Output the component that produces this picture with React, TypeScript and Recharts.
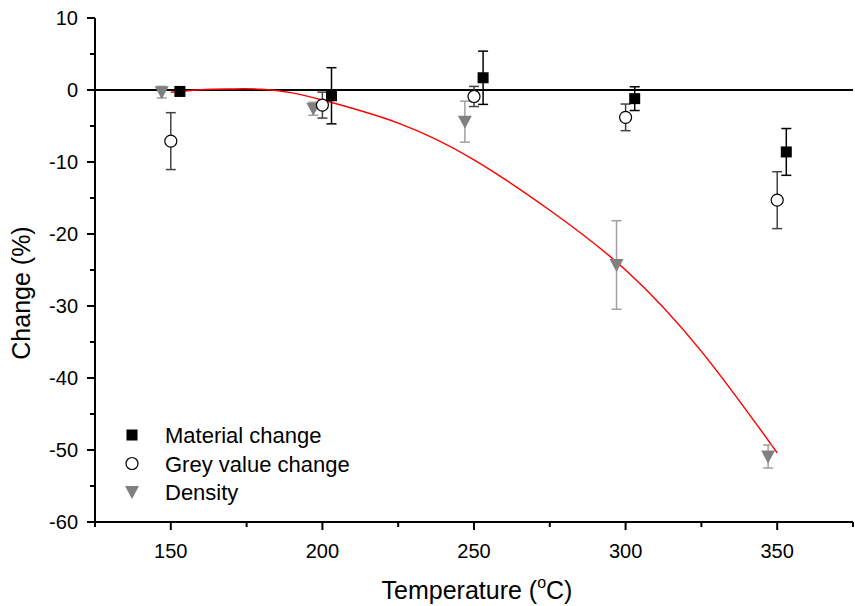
import React from "react";
import {
  ComposedChart,
  Scatter,
  Line,
  XAxis,
  YAxis,
  ErrorBar,
  ReferenceLine,
} from "recharts";

const FONT = "Arial, 'Liberation Sans', sans-serif";

// readings from the figure
const materialChange = [
  { x: 153, y: -0.2, err: 0.3 },
  { x: 203, y: -0.8, err: 3.9 },
  { x: 253, y: 1.7, err: 3.7 },
  { x: 303, y: -1.2, err: 1.65 },
  { x: 353, y: -8.6, err: 3.25 },
];

const greyValueChange = [
  { x: 150, y: -7.1, err: 3.95 },
  { x: 200, y: -2.1, err: 1.8 },
  { x: 250, y: -0.9, err: 1.4 },
  { x: 300, y: -3.8, err: 1.85 },
  { x: 350, y: -15.3, err: 3.95 },
];

const density = [
  { x: 147, y: -0.3, err: 0.8 },
  { x: 197, y: -2.6, err: 0.9 },
  { x: 247, y: -4.4, err: 2.85 },
  { x: 297, y: -24.3, err: 6.15 },
  { x: 347, y: -50.9, err: 1.6 },
];

const densityFit = [
  { x: 150, y: -0.3 },
  { x: 160, y: 0.05 },
  { x: 170, y: 0.15 },
  { x: 180, y: 0.1 },
  { x: 190, y: -0.4 },
  { x: 200, y: -1.4 },
  { x: 225, y: -4.6 },
  { x: 250, y: -9.7 },
  { x: 275, y: -16.7 },
  { x: 300, y: -25.0 },
  { x: 325, y: -36.3 },
  { x: 350, y: -50.4 },
];

const xTicks = [125, 150, 175, 200, 225, 250, 275, 300, 325, 350, 375];
const xLabels = [150, 200, 250, 300, 350];
const yTicks = [10, 5, 0, -5, -10, -15, -20, -25, -30, -35, -40, -45, -50, -55, -60];
const yLabels = [10, 0, -10, -20, -30, -40, -50, -60];

const legendItems = [
  { name: "Material change", kind: "square" },
  { name: "Grey value change", kind: "circle" },
  { name: "Density", kind: "triangle" },
];

const Square = ({ cx, cy }: any) => (
  <rect x={cx - 5.5} y={cy - 5.5} width={11} height={11} fill="#000" />
);
const Circle = ({ cx, cy }: any) => (
  <circle cx={cx} cy={cy} r={6} fill="#fff" stroke="#000" strokeWidth={1.2} />
);
const Triangle = ({ cx, cy }: any) => (
  <polygon
    points={`${cx - 7},${cy - 6} ${cx + 7},${cy - 6} ${cx},${cy + 7}`}
    fill="#808080"
  />
);

const XTick = (props: any) => {
  const { x, y, payload } = props;
  const major = xLabels.includes(payload.value);
  return (
    <g>
      <line x1={x} x2={x} y1={y} y2={y + (major ? 8 : 5)} stroke="#000" strokeWidth={2} />
      {major && (
        <text x={x} y={y + 36} textAnchor="middle" fontSize={20} fontFamily={FONT} fill="#000">
          {payload.value}
        </text>
      )}
    </g>
  );
};

const YTick = (props: any) => {
  const { x, y, payload } = props;
  const major = yLabels.includes(payload.value);
  return (
    <g>
      <line x1={x} x2={x - (major ? 8 : 5)} y1={y} y2={y} stroke="#000" strokeWidth={2} />
      {major && (
        <text x={x - 17} y={y + 7} textAnchor="end" fontSize={20} fontFamily={FONT} fill="#000">
          {payload.value}
        </text>
      )}
    </g>
  );
};

const LegendBox = () => (
  <svg
    width={260}
    height={90}
    style={{ position: "absolute", left: 110, top: 422 }}
  >
    {legendItems.map((item, i) => {
      const cy = 13 + i * 28.5;
      const cx = 22;
      return (
        <g key={item.name}>
          {item.kind === "square" && <Square cx={cx} cy={cy} />}
          {item.kind === "circle" && <Circle cx={cx} cy={cy} />}
          {item.kind === "triangle" && <Triangle cx={cx} cy={cy} />}
          <text x={55} y={cy + 8} fontSize={22} fontFamily={FONT} fill="#000">
            {item.name}
          </text>
        </g>
      );
    })}
  </svg>
);

export default function App() {
  return (
    <div style={{ position: "absolute", left: 0, top: 0, width: 855, height: 606 }}>
      <ComposedChart
        width={855}
        height={606}
        margin={{ top: 18, right: 2, left: 0, bottom: 0 }}
      >
        <XAxis
          type="number"
          dataKey="x"
          domain={[125, 375]}
          ticks={xTicks}
          interval={0}
          allowDataOverflow
          height={84}
          tickSize={0}
          tickMargin={0}
          tickLine={false}
          axisLine={{ stroke: "#000", strokeWidth: 2 }}
          tick={<XTick />}
          label={{
            position: "insideBottom",
            content: () => (
              <text x={477} y={599} textAnchor="middle" fontSize={25} fontFamily={FONT} fill="#000">
                Temperature (
                <tspan fontSize={16} dy={-11}>o</tspan>
                <tspan dy={11}>C)</tspan>
              </text>
            ),
          }}
        />
        <YAxis
          type="number"
          dataKey="y"
          domain={[-60, 10]}
          ticks={yTicks}
          interval={0}
          allowDataOverflow
          width={95}
          tickSize={0}
          tickMargin={0}
          tickLine={false}
          axisLine={{ stroke: "#000", strokeWidth: 2 }}
          tick={<YTick />}
          label={{
            position: "insideLeft",
            content: () => (
              <text
                x={30}
                y={293}
                transform="rotate(-90 30 293)"
                textAnchor="middle"
                fontSize={25}
                fontFamily={FONT}
                fill="#000"
              >
                Change (%)
              </text>
            ),
          }}
        />
        <ReferenceLine y={0} stroke="#000" strokeWidth={2} />
        <Line
          data={densityFit}
          dataKey="y"
          type="natural"
          stroke="#ff0000"
          strokeWidth={1.5}
          dot={false}
          activeDot={false}
          isAnimationActive={false}
          legendType="none"
        />
        <Scatter
          name="Density"
          data={density}
          dataKey="y"
          shape={<Triangle />}
          isAnimationActive={false}
        >
          <ErrorBar dataKey="err" direction="y" width={5} stroke="#a0a0a0" strokeWidth={1.5} />
        </Scatter>
        <Scatter
          name="Grey value change"
          data={greyValueChange}
          dataKey="y"
          shape={<Circle />}
          isAnimationActive={false}
        >
          <ErrorBar dataKey="err" direction="y" width={5} stroke="#444" strokeWidth={1.5} />
        </Scatter>
        <Scatter
          name="Material change"
          data={materialChange}
          dataKey="y"
          shape={<Square />}
          isAnimationActive={false}
        >
          <ErrorBar dataKey="err" direction="y" width={5} stroke="#000" strokeWidth={1.5} />
        </Scatter>
      </ComposedChart>
      <LegendBox />
    </div>
  );
}
